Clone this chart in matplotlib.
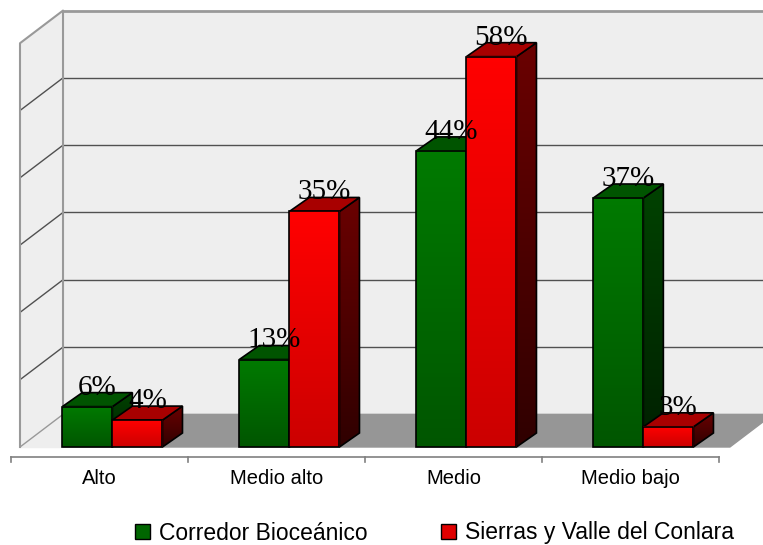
import numpy as np
import matplotlib
matplotlib.use("Agg")
import matplotlib.pyplot as plt
from matplotlib.patches import Polygon, Rectangle, Patch
from matplotlib.colors import LinearSegmentedColormap

categories = ["Alto", "Medio alto", "Medio", "Medio bajo"]
series_names = ["Corredor Bioceánico", "Sierras y Valle del Conlara"]
corredor = [6, 13, 44, 37]
sierras = [4, 35, 58, 3]
grid_vals = [10, 20, 30, 40, 50]
axis_max = 60

# colours: front top, front bottom, side top, side bottom, top face, legend
green = dict(ft="#007a00", fb="#005600", st="#004200", sb="#002000", top="#005400", leg="#006600")
red = dict(ft="#ff0000", fb="#cc0000", st="#6a0000", sb="#300000", top="#a80000", leg="#e00000")

fig = plt.figure(figsize=(7.63, 5.45), dpi=100)
ax = fig.add_axes([0, 0, 1, 1])
ax.set_axis_off()

# 1 category = 177 px, 1 % = 6.73 px
xmin, xmax = -0.562, 3.749
ymin, ymax = -14.56, 66.42
dxw, dyw = 0.243, 4.85     # wall depth
dxb, dyb = 0.113, 2.08     # bar depth
bw = 0.283                 # bar width
off = 0.073                # pair offset
xl = -0.449                # left wall front
xb = xl + dxw              # back wall left

wall_col = "#eeeeee"
edge_gray = "#999999"

# left wall + back wall
ax.add_patch(Rectangle((xl, 0), dxw, axis_max, color=wall_col, zorder=0))
ax.add_patch(Polygon([(xl, axis_max), (xb, axis_max + dyw), (xb, axis_max)], color=wall_col, zorder=0))
ax.add_patch(Rectangle((xb, dyw), xmax - xb, axis_max, color=wall_col, zorder=0))
# floor
ax.add_patch(Polygon([(xb, 0), (xb, dyw), (3.805, dyw), (3.562, 0)], color="#969696", zorder=1))

for g in grid_vals:
    ax.plot([xb, xmax], [g + dyw, g + dyw], color="#505050", lw=1, zorder=1)
    ax.plot([xl, xb], [g, g + dyw], color="#505050", lw=1, zorder=1)
ax.plot([xl, xl, xb, xb], [0, axis_max, axis_max + dyw, dyw], color=edge_gray, lw=1.5, zorder=1)
ax.plot([xb, xmax], [axis_max + dyw, axis_max + dyw], color=edge_gray, lw=2, zorder=1)
ax.plot([xl, xb], [0, dyw], color=edge_gray, lw=1, zorder=1)

grad = np.linspace(0, 1, 64).reshape(-1, 1)


def bar3d(x0, v, c, z):
    cm_f = LinearSegmentedColormap.from_list("f", [c["fb"], c["ft"]])
    cm_s = LinearSegmentedColormap.from_list("s", [c["sb"], c["st"]])
    side = [(x0 + bw, 0), (x0 + bw + dxb, dyb), (x0 + bw + dxb, v + dyb), (x0 + bw, v)]
    top = [(x0, v), (x0 + bw, v), (x0 + bw + dxb, v + dyb), (x0 + dxb, v + dyb)]
    sp = Polygon(side, closed=True, fc="none", ec="black", lw=1.2, zorder=z + 0.2)
    ax.add_patch(sp)
    im = ax.imshow(grad, cmap=cm_s, origin="lower", aspect="auto",
                   extent=[x0 + bw, x0 + bw + dxb, 0, v + dyb], zorder=z)
    im.set_clip_path(sp)
    ax.add_patch(Polygon(top, closed=True, fc=c["top"], ec="black", lw=1.2, zorder=z + 0.2))
    ax.imshow(grad, cmap=cm_f, origin="lower", aspect="auto",
              extent=[x0, x0 + bw, 0, v], zorder=z + 0.3)
    ax.add_patch(Rectangle((x0, 0), bw, v, fc="none", ec="black", lw=1.2, zorder=z + 0.4))


for i in range(len(categories)):
    xg = i + off - bw
    xr = i + off
    bar3d(xg, corredor[i], green, 3)
    bar3d(xr, sierras[i], red, 4)
    for x0, v in [(xg, corredor[i]), (xr, sierras[i])]:
        ax.text(x0 + bw / 2 + dxb / 2, v + 1.8, f"{v}%", ha="center", va="baseline",
                fontsize=21, family="Liberation Serif", color="black", zorder=6)

# category axis
ax.plot([-0.5, len(categories) - 0.5], [-1.49, -1.49], color="#808080", lw=1.2, zorder=2)
for t in np.arange(-0.5, len(categories), 1.0):
    ax.plot([t, t], [-1.49, -2.3], color="#808080", lw=1.2, zorder=2)
for i, c in enumerate(categories):
    ax.text(i, -4.75, c, ha="center", va="center", fontsize=14.5, family="Liberation Sans")

ax.set_xlim(xmin, xmax)
ax.set_ylim(ymin, ymax)

handles = [Patch(fc=green["leg"], ec="black", lw=1), Patch(fc=red["leg"], ec="black", lw=1)]
fig.legend(handles, series_names, ncol=2, loc="center", bbox_to_anchor=(0.570, 1 - 533 / 545),
           frameon=False, handlelength=0.65, handleheight=0.65, handletextpad=0.4,
           columnspacing=3.2, prop=dict(family="Liberation Sans", size=16.5))

fig.savefig("out.png", dpi=100)
